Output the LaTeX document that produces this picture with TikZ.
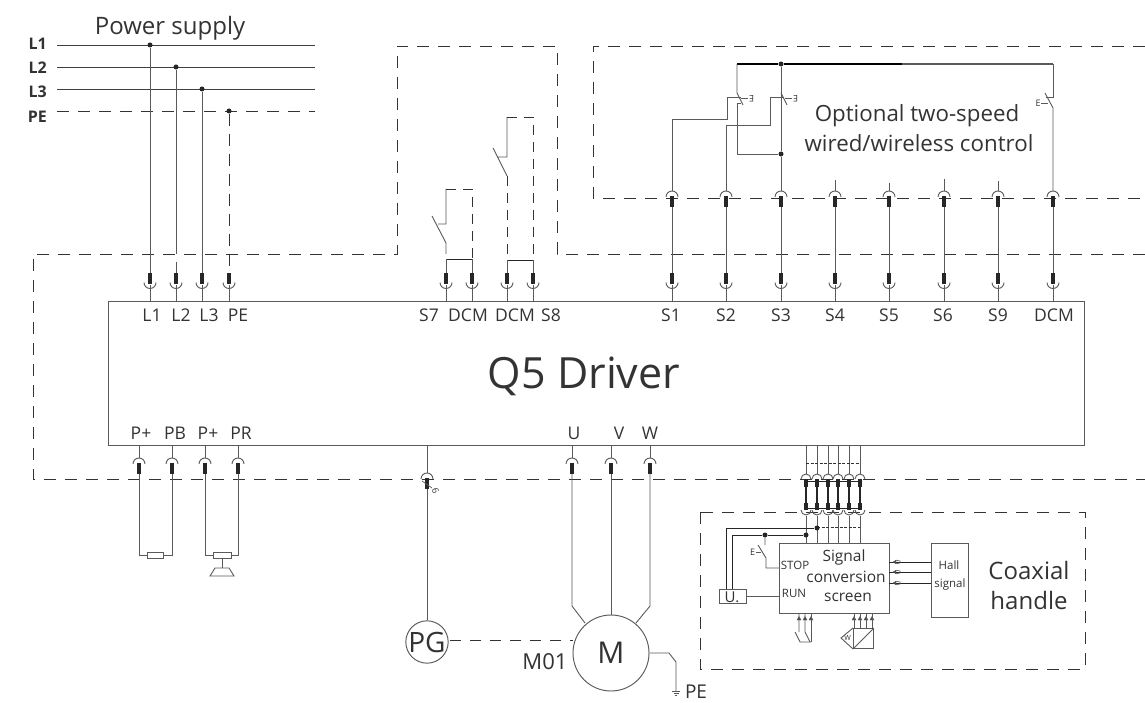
\documentclass[tikz,border=0pt]{standalone}
\usepackage{fontspec}
\setmainfont{Open Sans}
\definecolor{ink}{HTML}{333333}
\definecolor{wirec}{HTML}{5A5A5A}
\tikzset{
  wire/.style={draw=wirec,line width=.9pt},
  blk/.style={draw=black!85,line width=.9pt},
  heavy/.style={draw=black,line width=1.7pt},
  dsh/.style={draw=ink,line width=.95pt,dash pattern=on 12pt off 9pt},
  dshs/.style={draw=ink,line width=.8pt,dash pattern=on 3pt off 1.5pt},
  barw/.style={fill=black!85,draw=none},
  dot/.style={circle,fill=black!85,inner sep=0pt,minimum size=5pt},
  boxx/.style={draw=wirec,line width=.95pt,inner sep=0pt,anchor=north west},
  txt/.style={text=ink,inner sep=0pt,anchor=center},
  smalltip/.style={fill=black!70,draw=black!70,line width=.3pt}
}
\newcommand\cupTerm[3]{%
  \coordinate (#1) at (#2,#3);
  \coordinate (#1-low) at (#2,#3+16);
  \draw[wire] (#2-6,#3+9.5) arc[start angle=180,end angle=360,radius=6pt];
  \fill[barw] (#2-1.6,#3) rectangle (#2+1.6,#3+11);
}
\newcommand\capTerm[3]{%
  \coordinate (#1) at (#2,#3);
  \coordinate (#1-low) at (#2,#3+16);
  \draw[wire] (#2-6,#3+6) arc[start angle=180,end angle=0,radius=6pt];
  \fill[barw] (#2-1.6,#3+5) rectangle (#2+1.6,#3+16);
}
\newcommand\tinyCap[3]{%
  \coordinate (#1) at (#2,#3);
  \coordinate (#1-low) at (#2,#3+13);
  \draw[wire] (#2-5,#3+5) arc[start angle=180,end angle=0,radius=5pt];
  \fill[barw] (#2-1.6,#3+5) rectangle (#2+1.6,#3+13);
}
\newcommand\tinyCup[3]{%
  \coordinate (#1) at (#2,#3);
  \coordinate (#1-low) at (#2,#3+13);
  \draw[wire] (#2-5,#3+7) arc[start angle=180,end angle=360,radius=5pt];
  \fill[barw] (#2-1.6,#3) rectangle (#2+1.6,#3+7);
}
\begin{document}
\begin{tikzpicture}[x=1pt,y=-1pt]
\useasboundingbox (0,0) rectangle (1145,703);
\fill[white] (0,0) rectangle (1145,703);

%% dashed enclosures
\coordinate (dA) at (1145,254);
\coordinate (dB) at (557,254);
\coordinate (dC) at (557,46);
\coordinate (dD) at (397,46);
\coordinate (dE) at (397,254);
\coordinate (dF) at (33,254);
\coordinate (dG) at (33,479);
\coordinate (dH) at (1145,479);
\draw[dsh] (dA) -- (dB) -- (dC) -- (dD) -- (dE) -- (dF) -- (dG) -- (dH);
\coordinate (oA) at (1145,46);
\coordinate (oB) at (593,46);
\coordinate (oC) at (593,198);
\coordinate (oD) at (1145,198);
\draw[dsh] (oA) -- (oB) -- (oC) -- (oD);
\coordinate (cA) at (700,512);
\coordinate (cB) at (1085,669);
\draw[dsh] (cA) rectangle (cB);

%% driver
\node[boxx,minimum width=976pt,minimum height=144pt] (driver) at (108,301) {};
\node[txt,font=\fontsize{43}{43}\selectfont] (drvlabel) at (584,376) {Q5 Driver};

%% power supply
\node[txt,font=\fontsize{24}{24}\selectfont] (pstitle) at (170,28) {Power supply};
\foreach \n/\y/\ly in {L1/45/44,L2/67/68,L3/89/92}{
  \node[txt,font=\fontsize{16}{16}\selectfont\bfseries,anchor=east] (lab\n) at (47,\ly) {\n};
  \coordinate (\n w) at (57,\y);
  \coordinate (\n e) at (315,\y);
  \draw[wire,draw=black!75] (\n w) -- (\n e);
}
\node[txt,font=\fontsize{16}{16}\selectfont\bfseries,anchor=east] (labPE) at (47,117) {PE};
\coordinate (PEw) at (57,111);
\coordinate (PEe) at (315,111);
\draw[dsh] (PEw) -- (PEe);

\cupTerm{tL1}{150}{273}
\cupTerm{tL2}{176}{273}
\cupTerm{tL3}{202}{273}
\cupTerm{tPE}{229}{273}
\node[dot] (dL1) at (150,45) {};
\node[dot] (dL2) at (176,67) {};
\node[dot] (dL3) at (202,89) {};
\node[dot] (dPE) at (229,111) {};
\draw[wire] (dL1) -- (tL1);
\coordinate (L2brk) at (176,254);
\coordinate (L2res) at (176,262);
\draw[wire] (dL2) -- (L2brk) (L2res) -- (tL2);
\draw[wire] (dL3) -- (tL3);
\draw[dsh,dash pattern=on 12pt off 8pt] (dPE) -- (tPE);

%% S7/S8 terminals
\cupTerm{tS7}{446}{273}
\cupTerm{tD7}{472}{273}
\cupTerm{tD8}{507}{273}
\cupTerm{tS8}{533}{273}
\foreach \t in {tL1,tL2,tL3,tPE,tS7,tD7,tD8,tS8}{
  \draw[wire] (\t-low) ++(0,-4) -- (\t-low |- driver.north);
}
\coordinate (s7bar) at (446,259);
\coordinate (d7bar) at (472,259);
\coordinate (s8bar) at (507,260);
\coordinate (d8bar) at (533,260);
\draw[blk] (s7bar) -- (d7bar);
\draw[blk] (s8bar) -- (d8bar);
\draw[wire] (s7bar) -- (tS7) (d7bar) -- (tD7) (s8bar) -- (tD8) (d8bar) -- (tS8);
% S7 switch
\coordinate (s7a) at (446,243);
\coordinate (s7b) at (432,216);
\coordinate (s7c) at (438,224);
\coordinate (s7d) at (446,224);
\coordinate (s7e) at (446,189);
\coordinate (s7f) at (472,189);
\coordinate (s7g) at (446,254);
\draw[wire] (s7g) -- (s7a) -- (s7b) (s7c) -- (s7d) -- (s7e);
\draw[dsh,dash pattern=on 10pt off 7pt] (s7e) -- (s7f) -- (d7bar);
% S8 switch
\coordinate (s8a) at (507,176);
\coordinate (s8b) at (493,148);
\coordinate (s8c) at (498,157);
\coordinate (s8d) at (507,157);
\coordinate (s8e) at (507,117);
\coordinate (s8f) at (533,117);
\draw[wire] (s8a) -- (s8b) (s8c) -- (s8d) -- (s8e);
\draw[dsh,dash pattern=on 10pt off 7pt] (s8a) -- (s8bar);
\draw[dsh,dash pattern=on 10pt off 7pt] (s8e) -- (s8f) -- (d8bar);

%% terminal labels
\foreach \t/\x in {L1/152,L2/181,L3/209,PE/238,S7/429,DCM/468,DCM/515,S8/551,S1/671,S2/726,S3/781,S4/835,S5/889,S6/943,S9/998,DCM/1054}{
  \node[txt,font=\fontsize{17.5}{17.5}\selectfont] at (\x,315) {\t};
}
\foreach \t/\x in {P+/141,PB/175,P+/208,PR/241,U/574,V/619,W/650}{
  \node[txt,font=\fontsize{17.5}{17.5}\selectfont] at (\x,433) {\t};
}

%% S1..DCM row
\foreach \n/\x/\st in {a/672/0,b/726/0,c/781/0,d/835/180,e/889/183,f/944/179,g/998/181,h/1053/0}{
  \capTerm{u\n}{\x}{191}
  \cupTerm{v\n}{\x}{273}
  \draw[wire] (u\n-low) -- (v\n);
  \draw[wire] (v\n-low) ++(0,-4) -- (v\n-low |- driver.north);
  \ifnum\st>0
    \coordinate (st\n) at (\x,\st);
    \draw[wire] (st\n) -- (u\n);
  \fi
}
% top rail
\coordinate (railL) at (737,64);
\node[dot] (railD) at (781,64) {};
\coordinate (railM) at (902,64);
\coordinate (railR) at (1053,64);
\draw[heavy] (railL) -- (railD) -- (railM);
\draw[wire,line width=1.2pt] (railM) -- (railR);
\node[dot] (midD) at (781,154) {};
\draw[wire] (railD) -- (midD) -- (uc);
% left branch
\coordinate (sw1t) at (737,93);
\coordinate (sw1d) at (743,105);
\coordinate (sw1b) at (737,103);
\coordinate (sw1n) at (737,154);
\draw[wire] (railL) -- (sw1t) -- (sw1d);
\draw[wire] (741,103) -- (sw1b) -- (sw1n) -- (midD);
\coordinate (w1a) at (672,119);
\coordinate (w1b) at (727,119);
\coordinate (w1c) at (727,97);
\coordinate (w1d) at (741,97);
\draw[wire] (ua) -- (w1a) -- (w1b) -- (w1c) -- (w1d);
\draw[wire] (741,98) -- (748,98);
\node[txt,font=\fontsize{9}{9}\selectfont,rotate=180] (E1) at (751.5,98.5) {E};
% second switch
\coordinate (w2a) at (726,125);
\coordinate (w2b) at (770,125);
\coordinate (w2c) at (770,97);
\coordinate (w2d) at (784,97);
\draw[wire] (ub) -- (w2a) -- (w2b) -- (w2c) -- (w2d);
\draw[wire] (781,93) -- (787,105);
\draw[wire] (785,98) -- (792,98);
\node[txt,font=\fontsize{9}{9}\selectfont,rotate=180] (E2) at (795.5,98.5) {E};
% right switch
\coordinate (sw3a) at (1053,97);
\coordinate (sw3b) at (1046,97);
\coordinate (sw3c) at (1045,93);
\coordinate (sw3d) at (1053,108);
\draw[wire] (railR) -- (sw3a) -- (sw3b);
\draw[wire] (sw3c) -- (sw3d) -- (uh);
\draw[wire,line width=.7pt] (1041,103) -- (1048,103);
\node[txt,font=\fontsize{9}{9}\selectfont] (E3) at (1038,103) {E};
\node[txt,font=\fontsize{22.3}{22.3}\selectfont] (opt1) at (917,116) {Optional two-speed};
\node[txt,font=\fontsize{22.3}{22.3}\selectfont] (opt2) at (919,143) {wired/wireless control};

%% P+ PB P+ PR
\foreach \n/\x in {pa/139,pb/172,pc/205,pd/238}{
  \capTerm{\n}{\x}{458}
  \draw[wire] (\n |- driver.south) -- (\n);
}
\node[draw=wirec,line width=.8pt,minimum width=16pt,minimum height=6pt,inner sep=0pt] (res1) at (155.5,555) {};
\node[draw=wirec,line width=.8pt,minimum width=18pt,minimum height=6pt,inner sep=0pt] (res2) at (222,555) {};
\draw[wire] (pa-low) |- (res1.west);
\draw[wire] (pb-low) |- (res1.east);
\draw[wire] (pc-low) |- (res2.west);
\draw[wire] (pd-low) |- (res2.east);
\coordinate (fanT) at (222,568);
\draw[wire] (res2.south) -- (fanT);
\coordinate (fan1) at (215,568);
\coordinate (fan2) at (229,568);
\coordinate (fan3) at (234,576);
\coordinate (fan4) at (210,576);
\draw[wire] (fan1) -- (fan2) -- (fan3) -- (fan4) -- cycle;

%% PG and motor
\node[circle,draw=wirec,line width=.95pt,minimum size=42pt,inner sep=0pt,text=ink,font=\fontsize{28}{28}\selectfont] (PG) at (427,642) {PG};
\node[circle,draw=wirec,line width=.95pt,minimum size=76pt,inner sep=0pt,text=ink,font=\fontsize{30}{30}\selectfont] (M) at (611,653) {M};
\node[txt,font=\fontsize{22}{22}\selectfont] (M01) at (545,662) {M01};
\capTerm{pg}{427}{473}
\draw[wire] (pg |- driver.south) -- (pg);
\draw[wire] (pg-low) -- (PG.north);
\draw[wire,line width=.7pt] (422,481) -- (432,488);
\node[txt,font=\fontsize{9}{9}\selectfont,rotate=-70] (six) at (435.5,491) {6};
\draw[dsh,dash pattern=on 11pt off 9pt] (PG.east) ++(1,-2) -- (573,640);
\foreach \n/\x in {mu/572,mv/611,mw/650}{
  \capTerm{\n}{\x}{458}
  \draw[wire] (\n |- driver.south) -- (\n);
}
\coordinate (muB) at (572,606);
\coordinate (mwB) at (650,606);
\coordinate (muE) at (585,623);
\coordinate (mvE) at (611,615);
\coordinate (mwE) at (636,623);
\draw[wire] (mu-low) -- (muB) -- (muE);
\draw[wire] (mv-low) -- (mvE);
\draw[wire] (mw-low) -- (mwB) -- (mwE);
\coordinate (g1) at (669,653);
\coordinate (g2) at (676,662);
\coordinate (g3) at (676,691);
\draw[wire] (M.east) -- (g1) -- (g2) -- (g3);
\draw[wire,line width=.8pt] (672,691.5) -- (680,691.5) (673.5,693.5) -- (678.5,693.5) (675,695.5) -- (677,695.5);
\node[txt,font=\fontsize{19}{19}\selectfont] (gPE) at (696,692) {PE};

%% Coaxial handle
\node[boxx,minimum width=110pt,minimum height=70pt] (sig) at (779,543) {};
\node[boxx,minimum width=37pt,minimum height=74pt] (hall) at (931,543) {};
\node[boxx,minimum width=27pt,minimum height=14pt] (ub) at (719,589) {};
\node[txt,font=\fontsize{15}{15}\selectfont] (ulab) at (732,597) {U.};
\node[txt,font=\fontsize{11.5}{11.5}\selectfont] (stop) at (795,565) {STOP};
\node[txt,font=\fontsize{11.5}{11.5}\selectfont] (run) at (794,593) {RUN};
\node[txt,font=\fontsize{15.5}{15.5}\selectfont] (sg1) at (844,557) {Signal};
\node[txt,font=\fontsize{15.5}{15.5}\selectfont] (sg2) at (846,577) {conversion};
\node[txt,font=\fontsize{15.5}{15.5}\selectfont] (sg3) at (848,597) {screen};
\node[txt,font=\fontsize{11.5}{11.5}\selectfont] (h1) at (949,565) {Hall};
\node[txt,font=\fontsize{11.5}{11.5}\selectfont] (h2) at (950,585) {signal};
\node[txt,font=\fontsize{24}{24}\selectfont] (co1) at (1029,570) {Coaxial};
\node[txt,font=\fontsize{24}{24}\selectfont] (co2) at (1029,600) {handle};

\foreach \n/\x in {wa/806,wb/817,wc/828,wd/838,we/849,wf/860}{
  \tinyCap{\n}{\x}{474}
  \tinyCup{\n x}{\x}{503}
  \draw[wire] (\n |- driver.south) -- (\n);
  \draw[blk,line width=1.3pt] (\n-low) -- (\n x);
  \draw[wire] (\n x-low) -- (\n x-low |- sig.north);
}
\coordinate (h1a) at (806,463);
\coordinate (h1b) at (860,463);
\draw[dshs] (h1a) -- (h1b);
\coordinate (h2a) at (806,481);
\coordinate (h2b) at (860,481);
\draw[blk,line width=.7pt] (h2a) -- (h2b);
\coordinate (h3a) at (806,508);
\coordinate (h3b) at (860,508);
\draw[blk,line width=.7pt] (h3a) -- (h3b);
\coordinate (h4a) at (817,527);
\coordinate (h4b) at (860,527);
\draw[dshs] (h4a) -- (h4b);
\node[dot] (dw2) at (817,528) {};
\node[dot] (dw1) at (806,535) {};
\node[dot] (dsw) at (765,535) {};
\coordinate (u1) at (726,589);
\coordinate (u1t) at (726,528);
\coordinate (u2) at (732,589);
\coordinate (u2t) at (732,535);
\draw[blk] (u1) -- (u1t) -- (dw2);
\draw[blk] (u2) -- (u2t) -- (dsw) -- (dw1);
% stop switch
\coordinate (st1) at (765,545);
\coordinate (st2) at (758,545);
\coordinate (st3) at (766,558);
\coordinate (st4) at (766,568);
\draw[wire] (dsw) -- (st1) (st2) -- (st3) -- (st4) -- (st4 -| sig.west);
\draw[wire,line width=.7pt] (756,552) -- (761,552);
\node[txt,font=\fontsize{9}{9}\selectfont] (E4) at (752.5,552) {E};
\draw[wire] (ub.east) -- (ub.east -| sig.west);
% hall wires
\foreach \y in {562,572,583}{
  \coordinate (hw) at (931,\y);
  \coordinate (sw) at (889,\y);
  \draw[blk,line width=.9pt] (hw) -- (sw);
  \draw[smalltip] (893,\y) -- (896,\y-1.8) -- (896,\y+1.8) -- cycle;
  \draw[wire,line width=.6pt] (896,\y-1.8) -- (900,\y-1) -- (900,\y+1) -- (896,\y+1.8);
}
% lower left switch
\foreach \x in {799,805,811,854,860,866,872}{
  \draw[smalltip] (\x-2,620) -- (\x,616.5) -- (\x+2,620) -- cycle;
}
\coordinate (b1t) at (799,613);
\coordinate (b1m) at (799,632);
\coordinate (b2t) at (805,613);
\coordinate (b2m) at (805,632);
\coordinate (b3t) at (811,613);
\coordinate (b3m) at (811,642);
\coordinate (b1d) at (795,632);
\coordinate (b1e) at (800,642);
\coordinate (b2e) at (810,642);
\draw[wire] (b1t) -- (b1m) (b2t) -- (b2m) -- (b2e);
\draw[wire] (b3t) -- (b3m);
\draw[wire] (b1d) -- (b1e) -- (b3m);
% transducer
\node[boxx,minimum width=20pt,minimum height=20pt] (tr) at (853,628) {};
\draw[wire] (tr.north east) -- (tr.south west);
\coordinate (trL) at (841,638);
\draw[wire] (tr.north west) -- (trL) -- (tr.south west);
\node[txt,font=\fontsize{7}{7}\selectfont] (trW) at (847.5,638) {W};
\foreach \x in {854,860,866,872}{
  \coordinate (tt) at (\x,613);
  \coordinate (tb) at (\x,628);
  \draw[wire,line width=.8pt] (tt) -- (tb);
}
\end{tikzpicture}
\end{document}
